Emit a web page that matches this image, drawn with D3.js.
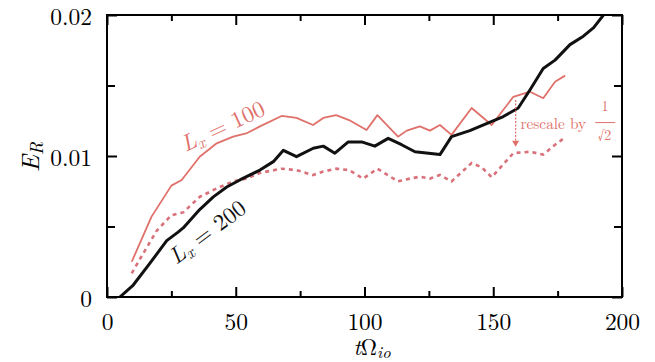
<!DOCTYPE html>
<html><head><meta charset="utf-8">
<script src="https://cdn.jsdelivr.net/npm/d3@7"></script>
<style>html,body{margin:0;padding:0;background:#fff;}</style></head>
<body><svg id="c" width="655" height="362"></svg>
<script>
// ---- data ----
const tRed = [9.6,17.3,25,29,36,42.6,49,54,59.4,67.8,73.6,80,84,89,94,100.8,105,113,116.4,121.5,125.4,129.3,133.8,141.6,149.4,157.8,164.3,169.4,174,177.9];
const eRed = [0.0025,0.0057,0.0079,0.0083,0.00995,0.0109,0.01137,0.0116,0.0121,0.01284,0.0127,0.0122,0.0127,0.0129,0.01255,0.01184,0.0129,0.01137,0.0118,0.0121,0.0118,0.0122,0.0115,0.0134,0.0122,0.0142,0.01456,0.0141,0.01527,0.0157];
const tDash = [9.6,14.1,19.3,25,29.6,36,42.6,49,54.2,59.4,67.8,73.6,80,84,89,94,99.5,105,113,117.7,121.5,125.4,129.3,133.8,141.6,145.5,149.4,157.8,164.3,169.4,174,177];
const eDash = [0.00168,0.0031,0.0047,0.0058,0.006,0.0071,0.0077,0.0082,0.0084,0.0088,0.0091,0.009,0.00865,0.0089,0.0091,0.009,0.0084,0.0091,0.0082,0.0084,0.00853,0.0084,0.00865,0.0082,0.0095,0.0092,0.0085,0.0102,0.0103,0.0101,0.0108,0.0112];
const tBlack = [5,10.2,16.7,23.2,27.6,29.6,36,41.3,46.5,51.6,59.4,64.6,68.5,73.6,80.1,84,88.5,93.7,98.9,104,109.2,114.4,119.6,129.3,133.8,140.9,147.4,153.9,159.7,164.3,169.4,174,179.8,185,189,192.8,196];
const eBlack = [0,0.00085,0.0024,0.004,0.0046,0.0049,0.0062,0.0071,0.0078,0.0083,0.009,0.0096,0.0104,0.00995,0.01055,0.0107,0.0102,0.011,0.011,0.0107,0.01125,0.0108,0.0103,0.0101,0.01137,0.0118,0.0123,0.0128,0.0134,0.0147,0.0162,0.0168,0.0179,0.0185,0.0191,0.02,0.0206];
const xMajor = [0,50,100,150,200];
const xMinor = [25,75,125,175];
const yMajor = [0,0.01,0.02];
const yMinor = [0.005,0.015];
const yLabels = ["0","0.01","0.02"];
const arrowT = 158.7, arrowFrom = 0.01397, arrowTo = 0.01066;

// ---- layout ----
const L=107, R=622, T=15, B=297;
const RED="#e0706a", DASH="#d9717a";
const FONT="'Latin Modern Roman','Liberation Serif',serif";
const svg=d3.select("#c");
const x=d3.scaleLinear().domain([0,200]).range([L,R]);
const y=d3.scaleLinear().domain([0,0.02]).range([B,T]);

svg.append("defs").append("clipPath").attr("id","clip")
  .append("rect").attr("x",L).attr("y",T).attr("width",R-L).attr("height",B-T);

function styleAxis(g){g.style("font-family",FONT);g.select(".domain").remove();g.selectAll("line").attr("stroke","#000").attr("stroke-width",2);}
svg.append("g").attr("transform",`translate(0,${B})`)
  .call(d3.axisBottom(x).tickValues(xMajor).tickSize(-10).tickPadding(16).tickFormat(d3.format("d")))
  .call(styleAxis).call(g=>g.selectAll("text").attr("font-size",23.5).attr("fill","#000").style("font-family",FONT));
svg.append("g").attr("transform",`translate(0,${B})`)
  .call(d3.axisBottom(x).tickValues(xMinor).tickSize(-6).tickFormat(""))
  .call(styleAxis);
svg.append("g").attr("transform",`translate(0,${T})`)
  .call(d3.axisTop(x).tickValues(xMajor).tickSize(-10).tickFormat(""))
  .call(styleAxis);
svg.append("g").attr("transform",`translate(0,${T})`)
  .call(d3.axisTop(x).tickValues(xMinor).tickSize(-6).tickFormat(""))
  .call(styleAxis);
svg.append("g").attr("transform",`translate(${L},0)`)
  .call(d3.axisLeft(y).tickValues(yMajor).tickSize(-10).tickPadding(15).tickFormat((d,i)=>yLabels[i]))
  .call(styleAxis).call(g=>g.selectAll("text").attr("font-size",23.5).attr("fill","#000").attr("dy","0.42em").style("font-family",FONT));
svg.append("g").attr("transform",`translate(${L},0)`)
  .call(d3.axisLeft(y).tickValues(yMinor).tickSize(-8).tickFormat(""))
  .call(styleAxis);
svg.append("g").attr("transform",`translate(${R},0)`)
  .call(d3.axisRight(y).tickValues(yMajor).tickSize(-10).tickFormat(""))
  .call(styleAxis);
svg.append("g").attr("transform",`translate(${R},0)`)
  .call(d3.axisRight(y).tickValues(yMinor).tickSize(-8).tickFormat(""))
  .call(styleAxis);

// lines
const line=d3.line().x(d=>x(d[0])).y(d=>y(d[1]));
const plot=svg.append("g").attr("clip-path","url(#clip)");
plot.append("path").datum(d3.zip(tDash,eDash)).attr("d",line)
  .attr("fill","none").attr("stroke",DASH).attr("stroke-width",2.6).attr("stroke-dasharray","4,4");
plot.append("path").datum(d3.zip(tRed,eRed)).attr("d",line)
  .attr("fill","none").attr("stroke",RED).attr("stroke-width",1.8).attr("stroke-linejoin","round");
plot.append("path").datum(d3.zip(tBlack,eBlack)).attr("d",line)
  .attr("fill","none").attr("stroke","#111").attr("stroke-width",3).attr("stroke-linejoin","round");

// frame
svg.append("rect").attr("x",L).attr("y",T).attr("width",R-L).attr("height",B-T)
  .attr("fill","none").attr("stroke","#000").attr("stroke-width",2);

// annotation arrow
svg.append("line").attr("x1",x(arrowT)).attr("x2",x(arrowT)).attr("y1",y(arrowFrom)).attr("y2",y(arrowTo)-5)
  .attr("stroke",RED).attr("stroke-width",1.2).attr("stroke-dasharray","2,1.5");
svg.append("path")
  .attr("d",`M${x(arrowT)-3.5},${y(arrowTo)-6} L${x(arrowT)+3.5},${y(arrowTo)-6} L${x(arrowT)},${y(arrowTo)} Z`)
  .attr("fill",RED);
const ann=svg.append("g").attr("fill",RED).style("font-family",FONT);
ann.append("text").attr("x",x(160.6)).attr("y",y(0.01195)).attr("font-size",15.3).style("font-family",FONT).text("rescale by");
ann.append("text").attr("x",x(193.4)).attr("y",y(0.0132)).attr("font-size",14).attr("text-anchor","middle").style("font-family",FONT).text("1");
ann.append("line").attr("x1",x(189.6)).attr("x2",x(197.4)).attr("y1",y(0.01237)).attr("y2",y(0.01237))
  .attr("stroke",RED).attr("stroke-width",1);
ann.append("text").attr("x",x(193.2)).attr("y",y(0.01112)).attr("font-size",14).attr("text-anchor","middle").style("font-family",FONT).text("√2");

// curve labels
function curveLabel(tr,color,num){
  const t=svg.append("text").attr("transform",tr).style("font-family",FONT)
    .attr("text-anchor","middle").attr("font-size",23).attr("fill",color);
  t.append("tspan").attr("font-style","italic").text("L");
  t.append("tspan").attr("font-style","italic").attr("font-size",16).attr("dy",4).text("x");
  t.append("tspan").attr("dy",-4).text(" = "+num);
}
curveLabel("translate(226,133) rotate(-25)",RED,"100");
curveLabel("translate(212,238) rotate(-37)","#111","200");

// axis titles
const xt=svg.append("text").attr("x",372).attr("y",354.5).attr("text-anchor","middle").attr("font-size",22.5).style("font-family",FONT);
xt.append("tspan").attr("font-style","italic").text("t");
xt.append("tspan").text("Ω");
xt.append("tspan").attr("font-style","italic").attr("font-size",16.5).attr("dy",3).text("io");
const yt=svg.append("text").attr("transform","translate(39,157) rotate(-90)").attr("text-anchor","middle").attr("font-size",25).style("font-family",FONT);
yt.append("tspan").attr("font-style","italic").text("E");
yt.append("tspan").attr("font-style","italic").attr("font-size",18).attr("dy",4).text("R");
</script></body></html>
